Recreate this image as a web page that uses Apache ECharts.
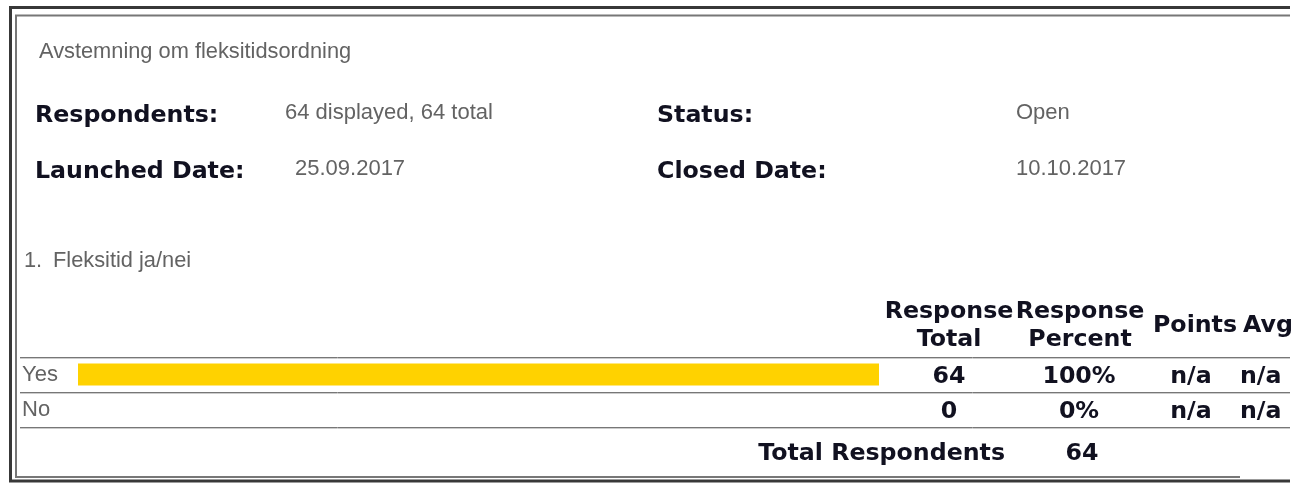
<!DOCTYPE html>
<html>
<head>
<meta charset="utf-8">
<script src="https://cdn.jsdelivr.net/npm/echarts@6/dist/echarts.min.js"></script>
<style>
  html, body { margin: 0; padding: 0; background: #fff; }
  #chart { width: 1307px; height: 484px; }
</style>
</head>
<body>
<div id="chart"></div>
<script>
// survey data
const surveyTitle = 'Avstemning om fleksitidsordning';
const questionNo = '1.';
const questionText = 'Fleksitid ja/nei';
const answers = ['Yes', 'No'];
const responseTotal = [64, 0];
const responsePercent = ['100%', '0%'];
const points = ['n/a', 'n/a'];
const avg = ['n/a', 'n/a'];
const totalRespondents = 64;
const infoLeft = [['Respondents:', '64 displayed, 64 total'], ['Launched Date:', '25.09.2017']];
const infoRight = [['Status:', 'Open'], ['Closed Date:', '10.10.2017']];

const BOLD = 'bold 23.7px "DejaVu Sans"';
const PLAIN = '22px "Liberation Sans"';
const SMALL = '21.8px "Liberation Sans"';
const DARK = '#111120';
const GRAY = '#636363';

const chart = echarts.init(document.getElementById('chart'));

function txt(text, x, y, font, fill, align) {
  return {
    type: 'text',
    silent: true,
    style: { text, x, y, font, fill, textAlign: align || 'left', textVerticalAlign: 'middle' }
  };
}

function hline(x1, x2, y, color, w) {
  return {
    type: 'line',
    silent: true,
    shape: { x1, y1: y, x2, y2: y },
    style: { stroke: color, lineWidth: w || 1 }
  };
}

const gridTop = 357;
const rowH = 35;

const graphics = [];
// frame
graphics.push({
  type: 'polyline', silent: true,
  shape: { points: [[1290, 7.5], [10.5, 7.5], [10.5, 481], [1290, 481]] },
  style: { stroke: '#383838', lineWidth: 3, fill: null }
});
graphics.push({
  type: 'polyline', silent: true,
  shape: { points: [[1290, 15.5], [16, 15.5], [16, 477], [1240, 477]] },
  style: { stroke: '#777', lineWidth: 2, fill: null }
});

graphics.push(txt(surveyTitle, 39, 52, SMALL, GRAY));
infoLeft.forEach((row, i) => {
  const y = 116 + i * 56;
  graphics.push(txt(row[0], 35, y, BOLD, DARK));
  graphics.push(txt(row[1], i === 0 ? 285 : 295, y - 3, PLAIN, GRAY));
});
infoRight.forEach((row, i) => {
  const y = 116 + i * 56;
  graphics.push(txt(row[0], 657, y, BOLD, DARK));
  graphics.push(txt(row[1], 1016, y - 3, PLAIN, GRAY));
});
graphics.push(txt(questionNo, 24, 261, SMALL, GRAY));
graphics.push(txt(questionText, 53, 261, SMALL, GRAY));

// column headers
graphics.push(txt('Response', 949, 312, BOLD, DARK, 'center'));
graphics.push(txt('Total', 949, 340, BOLD, DARK, 'center'));
graphics.push(txt('Response', 1080, 312, BOLD, DARK, 'center'));
graphics.push(txt('Percent', 1080, 340, BOLD, DARK, 'center'));
graphics.push(txt('Points', 1153, 326, BOLD, DARK));
graphics.push(txt('Avg', 1243, 326, BOLD, DARK));

// row separators
for (let i = 0; i <= answers.length; i++) {
  const y = gridTop + i * rowH;
  graphics.push(hline(20, 1290, y + 0.5, '#777'));
  graphics.push(hline(20, 1290, y + 1.5, '#cccccc'));
}

// total row
graphics.push(txt('Total Respondents', 1005, 454, BOLD, DARK, 'right'));
graphics.push(txt(String(totalRespondents), 1082, 454, BOLD, DARK, 'center'));

chart.setOption({
  animation: false,
  grid: { left: 78, right: 428, top: gridTop, height: rowH * answers.length },
  xAxis: { type: 'value', min: 0, max: 64, show: false },
  yAxis: {
    type: 'category',
    data: answers,
    inverse: true,
    axisLine: { show: false },
    axisTick: { show: false },
    splitLine: { show: false },
    axisLabel: {
      margin: 56,
      align: 'left',
      color: GRAY,
      fontFamily: 'Liberation Sans',
      fontSize: 22
    }
  },
  series: [
    {
      type: 'bar',
      data: responseTotal,
      barWidth: 22,
      itemStyle: { color: '#ffd200' }
    },
    {
      type: 'custom',
      data: answers.map((a, i) => [0, i]),
      clip: false,
      silent: true,
      renderItem(params, api) {
        const i = params.dataIndex;
        const y = api.coord([0, i])[1] + 2;
        return {
          type: 'group',
          children: [
            txt(String(responseTotal[i]), 949, y, BOLD, DARK, 'center'),
            txt(responsePercent[i], 1079, y, BOLD, DARK, 'center'),
            txt(points[i], 1191, y, BOLD, DARK, 'center'),
            txt(avg[i], 1240, y, BOLD, DARK)
          ]
        };
      }
    }
  ],
  graphic: graphics
});
</script>
</body>
</html>
